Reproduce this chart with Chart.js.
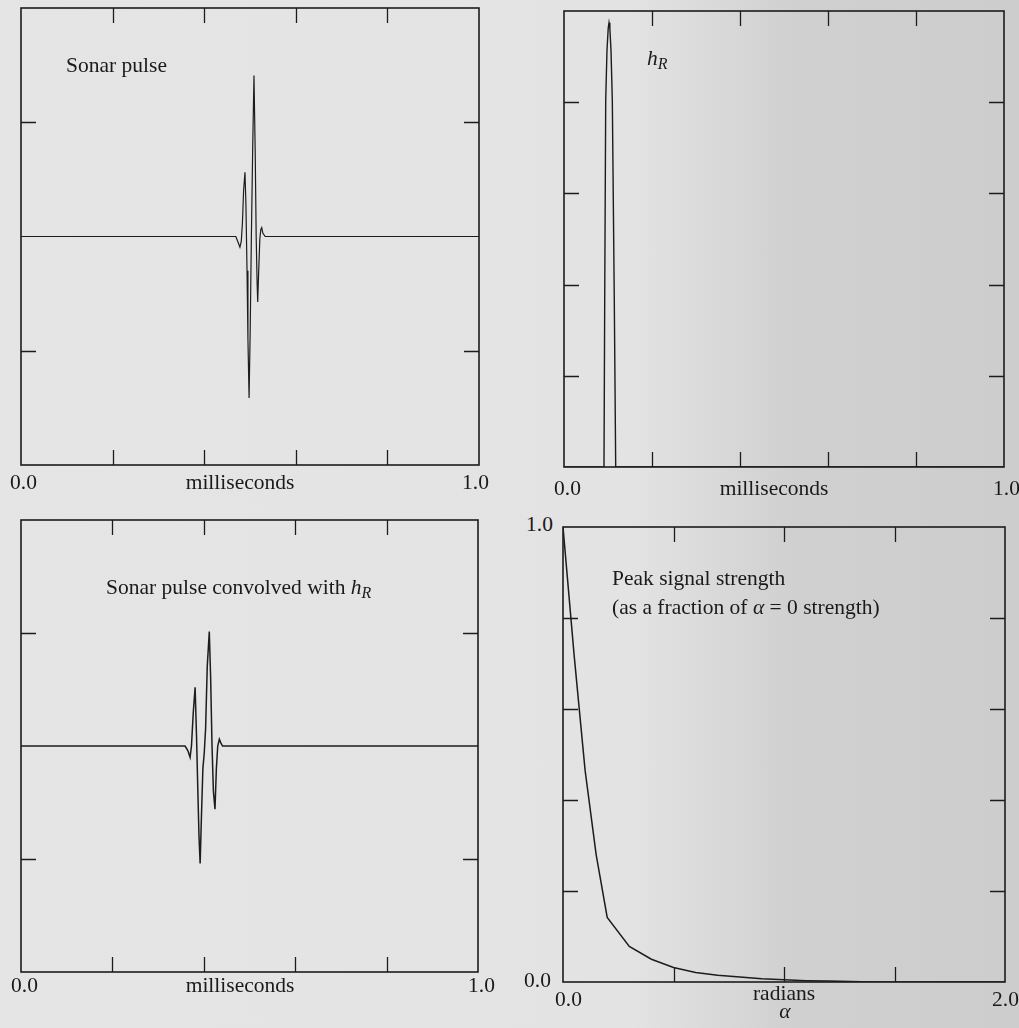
<!DOCTYPE html>
<html>
<head>
<meta charset="utf-8">
<script src="https://cdn.jsdelivr.net/npm/chart.js@4.4.1/dist/chart.umd.min.js"></script>
<style>
    html, body {
        margin: 0;
        padding: 0;
    }
    body {
        width: 1019px;
        height: 1028px;
        position: relative;
        overflow: hidden;
        background: linear-gradient(to right, #e5e5e5 0%, #e3e3e3 62%, #d0d0d0 78%, #cdcdcd 100%);
        font-family: "Liberation Serif", "DejaVu Serif", serif;
        color: #1a1a1a;
    }
    canvas {
        position: absolute;
    }
    .lbl {
        position: absolute;
        font-size: 21.5px;
        line-height: 21px;
        white-space: nowrap;
    }
    .c { transform: translateX(-50%); }
    .m { font-style: italic; }
    sub { font-size: 16px; vertical-align: -4px; line-height: 0; }
</style>
</head>
<body>
<canvas id="pulse-chart"></canvas>
<canvas id="hr-chart"></canvas>
<canvas id="conv-chart"></canvas>
<canvas id="peak-chart"></canvas>

<div class="lbl" style="left:66px; top:55px;">Sonar pulse</div>
<div class="lbl" style="left:10px; top:472px;">0.0</div>
<div class="lbl c" style="left:240px; top:472px;">milliseconds</div>
<div class="lbl" style="left:462px; top:472px;">1.0</div>

<div class="lbl" style="left:647px; top:48px;"><span class="m">h</span><sub class="m">R</sub></div>
<div class="lbl" style="left:554px; top:478px;">0.0</div>
<div class="lbl c" style="left:774px; top:478px;">milliseconds</div>
<div class="lbl" style="left:993px; top:478px;">1.0</div>

<div class="lbl" style="left:106px; top:577px;">Sonar pulse convolved with <span class="m">h</span><sub class="m">R</sub></div>
<div class="lbl" style="left:11px; top:975px;">0.0</div>
<div class="lbl c" style="left:240px; top:975px;">milliseconds</div>
<div class="lbl" style="left:468px; top:975px;">1.0</div>

<div class="lbl" style="left:526px; top:514px;">1.0</div>
<div class="lbl" style="left:524px; top:970px;">0.0</div>
<div class="lbl" style="left:555px; top:989px;">0.0</div>
<div class="lbl c" style="left:784px; top:983px;">radians</div>
<div class="lbl c m" style="left:785px; top:1001px;">α</div>
<div class="lbl" style="left:992px; top:989px;">2.0</div>
<div class="lbl" style="left:612px; top:568px;">Peak signal strength</div>
<div class="lbl" style="left:612px; top:597px;">(as a fraction of <span class="m">α</span> = 0 strength)</div>

<script>
// Sonar pulse (milliseconds, relative amplitude)
const pulseTime = [0, 0.469, 0.474, 0.478, 0.481, 0.4835, 0.486, 0.489, 0.491, 0.4935, 0.4955, 0.498,
    0.5005, 0.503, 0.506, 0.5087, 0.5115, 0.5135, 0.5155, 0.5168, 0.519, 0.5215, 0.5235, 0.5256, 0.528, 0.533, 1.0];
const pulseValue = [0, 0, -0.025, -0.047, -0.02, 0.06, 0.2, 0.281, 0.15, -0.15, -0.45, -0.707,
    -0.4, 0.0, 0.4, 0.705, 0.35, 0.0, -0.2, -0.287, -0.15, -0.01, 0.03, 0.0385, 0.015, 0, 0];

// h_R impulse response
const hrTime = [0, 0.0909, 0.0925, 0.0948, 0.0977, 0.1005, 0.1023, 0.1042, 0.1068, 0.1098, 0.1143, 0.1175, 1.0];
const hrValue = [0, 0, 0.366, 0.805, 0.914, 0.962, 0.974, 0.962, 0.914, 0.805, 0.366, 0, 0];

// Sonar pulse convolved with h_R
const convTime = [0, 0.359, 0.365, 0.370, 0.373, 0.377, 0.381, 0.384, 0.387, 0.3895, 0.392, 0.395,
    0.398, 0.401, 0.404, 0.4075, 0.412, 0.415, 0.418, 0.421, 0.4245, 0.4275, 0.4305, 0.434, 0.437, 0.441, 1.0];
const convValue = [0, 0, -0.02, -0.05, 0.0, 0.15, 0.26, 0.05, -0.2, -0.4, -0.52, -0.3,
    -0.1, -0.03, 0.08, 0.35, 0.506, 0.3, 0.0, -0.2, -0.28, -0.1, 0.0, 0.03, 0.015, 0, 0];

// Peak signal strength vs alpha (radians)
const alphaRad = [0, 0.05, 0.1, 0.15, 0.2, 0.3, 0.4, 0.5, 0.6, 0.7, 0.8, 0.9, 1.0, 1.1, 1.2, 1.3, 1.4, 1.5, 1.6, 1.7, 1.8, 1.9, 2.0];
const peakStrength = [1.0, 0.72, 0.465, 0.28, 0.142, 0.078, 0.050, 0.032, 0.021, 0.015, 0.011, 0.007, 0.005, 0.003, 0.002, 0.001, 0, 0, 0, 0, 0, 0, 0];

// tick marks (inside the frame)
const msTicks = [0.2, 0.4, 0.6, 0.8];
const pulseTicks = [-0.5, 0.5];
const fracTicks = [0.2, 0.4, 0.6, 0.8];
const alphaTicks = [0.5, 1.0, 1.5];

const INK = '#1c1c1c';
const PAD = 6;

// frame with inward ticks, drawn through the chart's own scales
const framePlugin = {
    id: 'frame',
    afterDatasetsDraw(chart, args, opts) {
        const { ctx, chartArea: a, scales } = chart;
        const len = 15;
        ctx.save();
        ctx.strokeStyle = INK;
        ctx.lineWidth = 1.6;
        ctx.strokeRect(a.left, a.top, a.right - a.left, a.bottom - a.top);
        ctx.beginPath();
        opts.xTicks.forEach(v => {
            const px = Math.round(scales.x.getPixelForValue(v)) + 0.5;
            ctx.moveTo(px, a.top); ctx.lineTo(px, a.top + len);
            ctx.moveTo(px, a.bottom); ctx.lineTo(px, a.bottom - len);
        });
        opts.yTicks.forEach(v => {
            const py = Math.round(scales.y.getPixelForValue(v)) + 0.5;
            ctx.moveTo(a.left, py); ctx.lineTo(a.left + len, py);
            ctx.moveTo(a.right, py); ctx.lineTo(a.right - len, py);
        });
        ctx.lineWidth = 1.3;
        ctx.stroke();
        ctx.restore();
    }
};

function makePanel(id, box, xs, ys, xRange, yRange, xTicks, yTicks, width) {
    const canvas = document.getElementById(id);
    canvas.width = box.right - box.left + 2 * PAD;
    canvas.height = box.bottom - box.top + 2 * PAD;
    canvas.style.left = (box.left - PAD) + 'px';
    canvas.style.top = (box.top - PAD) + 'px';

    return new Chart(canvas, {
        type: 'scatter',
        data: {
            datasets: [{
                data: xs.map((x, i) => ({ x: x, y: ys[i] })),
                showLine: true,
                borderColor: INK,
                borderWidth: width,
                pointRadius: 0,
                tension: 0,
                fill: false
            }]
        },
        options: {
            responsive: false,
            animation: false,
            events: [],
            layout: { padding: PAD },
            scales: {
                x: { type: 'linear', min: xRange[0], max: xRange[1], display: false },
                y: { type: 'linear', min: yRange[0], max: yRange[1], display: false }
            },
            plugins: {
                legend: { display: false },
                tooltip: { enabled: false },
                frame: { xTicks: xTicks, yTicks: yTicks }
            }
        },
        plugins: [framePlugin]
    });
}

makePanel('pulse-chart', { left: 21, top: 8, right: 479, bottom: 465 },
    pulseTime, pulseValue, [0, 1], [-1, 1], msTicks, pulseTicks, 1.2);
makePanel('hr-chart', { left: 564, top: 11, right: 1004, bottom: 467 },
    hrTime, hrValue, [0, 1], [0, 1], msTicks, fracTicks, 1.4);
makePanel('conv-chart', { left: 21, top: 520, right: 478, bottom: 972 },
    convTime, convValue, [0, 1], [-1, 1], msTicks, pulseTicks, 1.5);
makePanel('peak-chart', { left: 563, top: 527, right: 1005, bottom: 982 },
    alphaRad, peakStrength, [0, 2], [0, 1], alphaTicks, fracTicks, 1.5);
</script>
</body>
</html>
